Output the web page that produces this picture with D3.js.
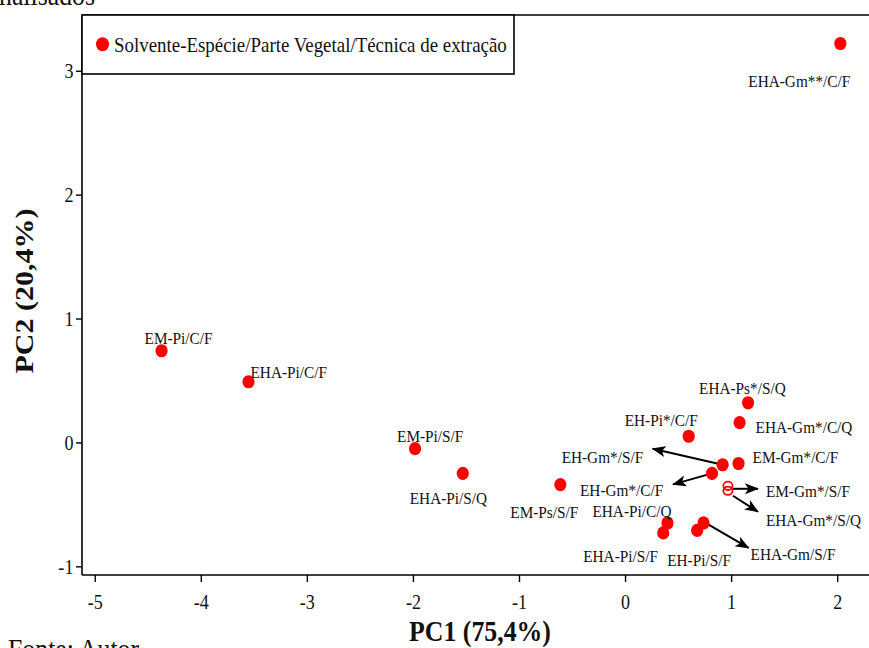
<!DOCTYPE html>
<html>
<head>
<meta charset="utf-8">
<script src="https://cdn.jsdelivr.net/npm/d3@7"></script>
<style>
  html, body { margin: 0; padding: 0; background: #fff; }
  svg { display: block; }
  text { font-family: "Liberation Serif", "Times New Roman", serif; fill: #111; }
</style>
</head>
<body>
<svg id="chart" width="869" height="648"></svg>
<script>
// Sample codes: Solvente-Espécie/Parte Vegetal/Técnica de extração
const labels = [
  "EHA-Gm**/C/F", "EM-Pi/C/F", "EHA-Pi/C/F", "EM-Pi/S/F", "EHA-Pi/S/Q",
  "EM-Ps/S/F", "EHA-Ps*/S/Q", "EHA-Gm*/C/Q", "EH-Pi*/C/F", "EH-Gm*/S/F",
  "EM-Gm*/C/F", "EH-Gm*/C/F", "EM-Gm*/S/F", "EHA-Gm*/S/Q", "EHA-Pi/C/Q",
  "EHA-Pi/S/F", "EHA-Gm/S/F", "EH-Pi/S/F"
];
// Scores on the first two principal components
const pc1 = [2.03, -4.37, -3.55, -1.98, -1.53, -0.61, 1.16, 1.08, 0.60, 0.92,
             1.07, 0.82, 0.97, 0.97, 0.40, 0.36, 0.74, 0.68];
const pc2 = [3.22, 0.74, 0.49, -0.05, -0.25, -0.34, 0.32, 0.16, 0.05, -0.18,
             -0.17, -0.25, -0.35, -0.39, -0.65, -0.73, -0.65, -0.71];
// Samples drawn with an open marker
const hollow = [false, false, false, false, false, false, false, false, false, false,
                false, false, true, true, false, false, false, false];

const xTicks = [-5, -4, -3, -2, -1, 0, 1, 2];
const yTicks = [-1, 0, 1, 2, 3];
const xTitle = "PC1 (75,4%)";
const yTitle = "PC2 (20,4%)";
const legendText = "Solvente-Espécie/Parte Vegetal/Técnica de extração";

// Label placement (pixel offsets from each marker: text start, baseline)
const labelOffsets = [
  [-92, 44], [-17, -7], [2, -4], [-18, -7], [-53, 31],
  [-50, 33], [-49, -9], [16, 10], [-64, -10], [-161, -2],
  [14, 0], [-132, 23], [38, 11], [38, 35], [-75, -6],
  [-80, 29], [47, 37], [-30, 36]
];
// Leader arrows: sample index, start offset, tip offset (pixels)
const arrows = [
  [9, 0, 0, -70, -16],
  [11, 0, 0, -39, 11],
  [12, 5, 3, 30, 3],
  [13, 5, 5, 30, 21],
  [16, 2, 0, 45, 25]
];

const plot = { left: 82, right: 869, top: 15, bottom: 575 };
const sx = 0.86; // horizontal text condensing
const serif = '"Liberation Serif", "Times New Roman", serif';

const svg = d3.select("#chart");

const x = d3.scaleLinear().domain([-5.12, 2.30]).range([plot.left, plot.right]);
const y = d3.scaleLinear().domain([-1.07, 3.45]).range([plot.bottom, plot.top]);

// Arrowhead
svg.append("defs").append("marker")
  .attr("id", "head")
  .attr("markerUnits", "userSpaceOnUse")
  .attr("viewBox", "0 -6 14 12")
  .attr("refX", 13).attr("refY", 0)
  .attr("markerWidth", 14).attr("markerHeight", 12)
  .attr("orient", "auto")
  .append("path")
  .attr("d", "M0,-5.5 L14,0 L0,5.5 L3.5,0 Z")
  .attr("fill", "#000");

// Frame top line
svg.append("line")
  .attr("x1", plot.left).attr("x2", plot.right).attr("y1", plot.top).attr("y2", plot.top)
  .attr("stroke", "#000").attr("stroke-width", 1.6);

// Axes (plain hyphen for negative tick values)
const fmt = d => String(d);
const xAxis = svg.append("g")
  .attr("transform", `translate(0,${plot.bottom})`)
  .call(d3.axisBottom(x).tickValues(xTicks).tickSize(7).tickSizeOuter(0).tickPadding(12)
        .tickFormat(fmt));
const yAxis = svg.append("g")
  .attr("transform", `translate(${plot.left},0)`)
  .call(d3.axisLeft(y).tickValues(yTicks).tickSize(6).tickSizeOuter(0).tickPadding(4)
        .tickFormat(fmt));

[xAxis, yAxis].forEach(g => {
  g.attr("font-family", serif);
  g.select(".domain").attr("stroke", "#000").attr("stroke-width", 1.6);
  g.selectAll(".tick line").attr("stroke", "#000").attr("stroke-width", 1.4);
  g.selectAll(".tick text")
    .attr("fill", "#111")
    .style("font-family", serif)
    .style("font-size", "21px");
});
xAxis.selectAll(".tick text").attr("transform", `scale(${sx},1)`);
yAxis.selectAll(".tick text").attr("transform", `scale(${sx},1)`).attr("dy", "0.34em");
// stretch domain paths to the full plot extent
xAxis.select(".domain").attr("d", `M${plot.left},0H${plot.right}`);
yAxis.select(".domain").attr("d", `M0,${plot.top}V${plot.bottom}`);

// Axis titles
svg.append("g").attr("transform", `translate(480,641) scale(${sx},1)`)
  .append("text").attr("text-anchor", "middle")
  .style("font-size", "30px").style("font-weight", "bold").text(xTitle);
svg.append("g").attr("transform", `translate(33,291) scale(${sx},1) rotate(-90)`)
  .append("text").attr("text-anchor", "middle")
  .style("font-size", "30px").style("font-weight", "bold").text(yTitle);

// Surrounding document text
svg.append("g").attr("transform", `translate(95,5) scale(${sx},1)`)
  .append("text").attr("text-anchor", "end").style("font-size", "30px").text("analisados");
svg.append("g").attr("transform", `translate(8,659) scale(${sx},1)`)
  .append("text").style("font-size", "30px").text("Fonte: Autor");

// Leader arrows (under the markers)
svg.append("g").selectAll("line").data(arrows).join("line")
  .attr("x1", a => x(pc1[a[0]]) + a[1])
  .attr("y1", a => y(pc2[a[0]]) + a[2])
  .attr("x2", a => x(pc1[a[0]]) + a[3])
  .attr("y2", a => y(pc2[a[0]]) + a[4])
  .attr("stroke", "#000").attr("stroke-width", 2)
  .attr("marker-end", "url(#head)");

// Markers
const idx = d3.range(labels.length);
svg.append("g").selectAll("ellipse").data(idx.filter(i => !hollow[i])).join("ellipse")
  .attr("cx", i => x(pc1[i])).attr("cy", i => y(pc2[i]))
  .attr("rx", 6.1).attr("ry", 6.6)
  .attr("fill", "#ff0000");
svg.append("g").selectAll("ellipse").data(idx.filter(i => hollow[i])).join("ellipse")
  .attr("cx", i => x(pc1[i])).attr("cy", i => y(pc2[i]))
  .attr("rx", 4.6).attr("ry", 4.2)
  .attr("fill", "none").attr("stroke", "#ff0000").attr("stroke-width", 1.8);

// Sample labels
svg.append("g").selectAll("g").data(idx).join("g")
  .attr("transform", i => `translate(${x(pc1[i]) + labelOffsets[i][0]},${y(pc2[i]) + labelOffsets[i][1]}) scale(0.9,1)`)
  .append("text")
  .style("font-size", "17px")
  .text(i => labels[i]);

// Legend
const lg = svg.append("g");
lg.append("rect")
  .attr("x", plot.left).attr("y", plot.top).attr("width", 432).attr("height", 59)
  .attr("fill", "#fff").attr("stroke", "#000").attr("stroke-width", 1.6);
lg.append("ellipse").attr("cx", 102.5).attr("cy", 44.3).attr("rx", 6.5).attr("ry", 7)
  .attr("fill", "#ff0000");
lg.append("g").attr("transform", `translate(114,52) scale(${sx},1)`)
  .append("text").style("font-size", "22px").text(legendText);
</script>
</body>
</html>
